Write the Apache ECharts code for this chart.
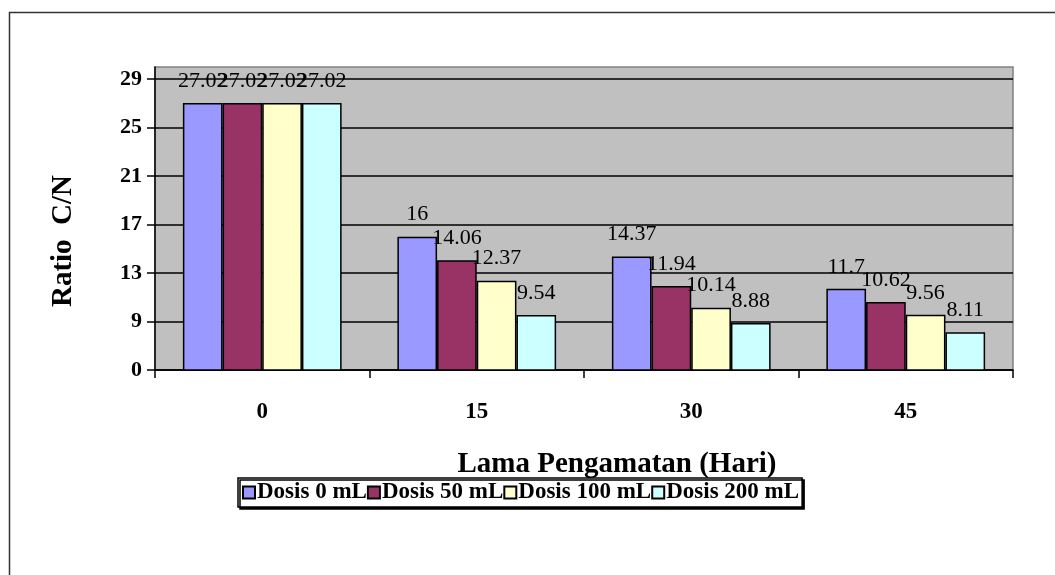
<!DOCTYPE html>
<html>
<head>
<meta charset="utf-8">
<script src="https://cdn.jsdelivr.net/npm/echarts@6/dist/echarts.min.js"></script>
<style>
  html, body { margin: 0; padding: 0; background: #fff; }
  #chart { width: 1055px; height: 575px; }
</style>
</head>
<body>
<div id="chart"></div>
<script>
// Observation days (x categories)
const days = ['0', '15', '30', '45'];

// C/N ratio per dose
const dosis0   = [27.02, 16, 14.37, 11.7];
const dosis50  = [27.02, 14.06, 11.94, 10.62];
const dosis100 = [27.02, 12.37, 10.14, 9.56];
const dosis200 = [27.02, 9.54, 8.88, 8.11];

const seriesNames = ['Dosis 0 mL', 'Dosis 50 mL', 'Dosis 100 mL', 'Dosis 200 mL'];

// Value-axis ticks and the labels printed beside them
const yTickValues = [5, 9, 13, 17, 21, 25, 29];
const yTickLabels = ['0', '9', '13', '17', '21', '25', '29'];

const FONT = "'Liberation Serif', 'Times New Roman', serif";
const colors = ['#9999ff', '#993366', '#ffffcc', '#ccffff'];
const seriesData = [dosis0, dosis50, dosis100, dosis200];

const chart = echarts.init(document.getElementById('chart'), null, { renderer: 'canvas' });

const option = {
  animation: false,
  backgroundColor: '#ffffff',
  textStyle: { fontFamily: FONT },
  grid: {
    left: 155, right: 42, top: 67, bottom: 205,
    show: true,
    backgroundColor: '#c0c0c0',
    borderColor: '#808080',
    borderWidth: 1.5
  },
  legend: {
    data: seriesNames,
    left: 238, top: 478,
    width: 700,
    icon: 'rect',
    itemWidth: 12, itemHeight: 12,
    itemGap: 0,
    padding: [3, 3, 3, 4],
    borderColor: '#000', borderWidth: 1.5,
    backgroundColor: '#fff',
    shadowColor: '#000', shadowOffsetX: 2, shadowOffsetY: 2, shadowBlur: 0,
    textStyle: { fontFamily: FONT, fontWeight: 'bold', fontSize: 23, color: '#000', padding: [0, 0, 0, -3] }
  },
  xAxis: {
    type: 'category',
    data: days,
    axisLine: { lineStyle: { color: '#000', width: 1.5 } },
    axisTick: { show: true, length: 8, lineStyle: { color: '#000', width: 1.5 } },
    axisLabel: { margin: 31, fontFamily: FONT, fontWeight: 'bold', fontSize: 23, color: '#000' },
    splitLine: { show: false }
  },
  yAxis: {
    type: 'value',
    min: 5, max: 30, interval: 4,
    axisLine: { show: true, lineStyle: { color: '#000', width: 1.5 } },
    axisTick: { show: true, length: 8, lineStyle: { color: '#000', width: 1.5 }, customValues: yTickValues },
    axisLabel: {
      margin: 13, fontFamily: FONT, fontWeight: 'bold', fontSize: 22, color: '#000',
      customValues: yTickValues,
      formatter: function (v) {
        const i = yTickValues.indexOf(v);
        return i >= 0 ? yTickLabels[i] : '';
      }
    },
    splitLine: {
      show: true,
      lineStyle: { color: ['#000', '#000', '#000', '#000', '#000', '#000', '#000', '#808080'], width: 1.5 }
    }
  },
  graphic: [
    {
      type: 'rect', silent: true, z: -1,
      shape: { x: 9.5, y: 12.5, width: 1100, height: 620 },
      style: { fill: null, stroke: '#333', lineWidth: 1.5 }
    },
    {
      type: 'text', silent: true,
      x: 617, y: 465,
      style: {
        text: 'Lama Pengamatan (Hari)', fontFamily: FONT, fontWeight: 'bold', fontSize: 29,
        fill: '#000', align: 'center', verticalAlign: 'middle'
      }
    },
    {
      type: 'text', silent: true,
      x: 64, y: 241, rotation: Math.PI / 2,
      style: {
        text: 'Ratio  C/N', fontFamily: FONT, fontWeight: 'bold', fontSize: 29,
        fill: '#000', align: 'center', verticalAlign: 'middle'
      }
    }
  ],
  series: seriesNames.map(function (name, i) {
    return {
      name: name,
      type: 'bar',
      data: seriesData[i],
      barGap: '0%',
      barCategoryGap: '26%',
      clip: true,
      itemStyle: { color: colors[i], borderColor: '#000', borderWidth: 1.5 },
      label: {
        show: true, position: 'top', distance: 11,
        fontFamily: FONT, fontSize: 22, color: '#000'
      }
    };
  })
};

chart.setOption(option);
</script>
</body>
</html>
